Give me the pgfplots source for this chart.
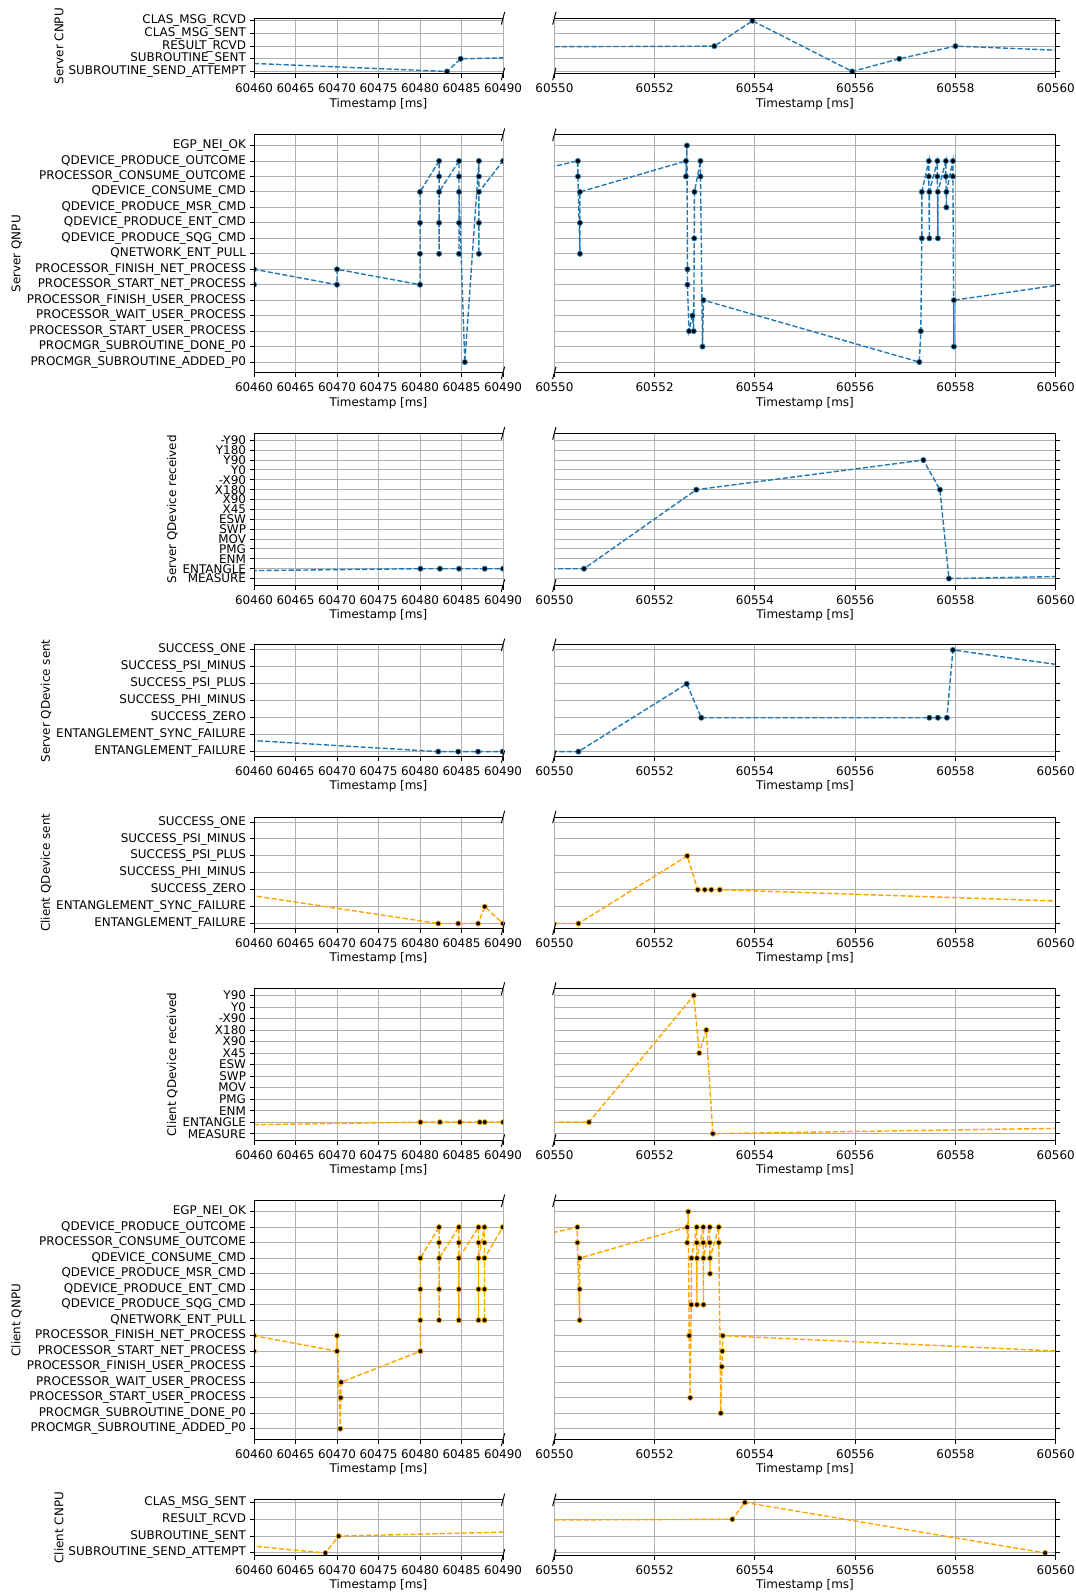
\documentclass[border=0pt]{standalone}
\usepackage{fontspec}
\setmainfont{DejaVu Sans}
\usepackage{pgfplots}
\usepackage{pgfplotstable}
\pgfplotsset{compat=1.18}
\definecolor{tabblue}{HTML}{1F77B4}
\definecolor{orng}{HTML}{FFA500}
\definecolor{gridc}{HTML}{B0B0B0}
\newcommand{\fs}{\fontsize{8.6pt}{10pt}\selectfont}
\pgfplotsset{
  base/.style={scale only axis, enlargelimits=false, axis line style={draw=none},
    tick align=outside, major tick length=3pt, tick style={black, line width=0.7pt},
    grid=major, major grid style={gridc, line width=0.7pt}, xtick pos=left,
    clip marker paths=true,
    tick label style={font=\fs}, label style={font=\fs},
    xticklabel style={inner sep=0pt, anchor=north, yshift=-3.9pt},
    yticklabel style={inner sep=0pt, anchor=east, xshift=-2.6pt},
    xlabel={Timestamp [ms]},
    xlabel style={at={(axis description cs:0.5,0)}, anchor=center, yshift=-21.6pt, inner sep=0pt}},
  leftp/.style={base, width=179.28pt, xmin=460, xmax=490, xtick={460,465,...,490},
    xticklabels={60460,60465,60470,60475,60480,60485,60490}, ytick pos=left},
  rightp/.style={base, width=360.94pt, xmin=550, xmax=560, xtick={550,552,...,560},
    xticklabels={60550,60552,60554,60556,60558,60560}, ytick pos=right, yticklabels={}},
  server/.style={color=tabblue, line width=1pt, dash pattern=on 3.7pt off 1.6pt,
    mark=*, mark size=1.85pt, mark options={solid, fill=black, draw=tabblue, line width=0.55pt}},
  client/.style={color=orng, line width=1pt, dash pattern=on 3.7pt off 1.6pt,
    mark=*, mark size=1.85pt, mark options={solid, fill=black, draw=orng, line width=0.55pt}},
}
\newcommand{\brk}[1]{\draw[line width=0.7pt, black] (#1) ++(-1.2pt,-4.5pt) -- ++(2.4pt,9pt);}
\newcommand{\spines}[2]{%
  \draw[line width=0.7pt, black] (#1.north east) -- (#1.north west) -- (#1.south west) -- (#1.south east);
  \draw[line width=0.7pt, black] (#2.north west) -- (#2.north east) -- (#2.south east) -- (#2.south west);
  \brk{#1.north east}\brk{#1.south east}\brk{#2.north west}\brk{#2.south west}}

\pgfplotstableread{
x y
409.5 2
483.25 0
484.9 1
553.19 2
553.95 4
555.94 0
556.88 1
558.0 2
570.5 0
}\tA
\pgfplotstableread{
x y
460 5
460 6
470 5
470 6
480 5
480 7
480 9
480 11
482.3 13
482.3 12
482.3 7
482.3 9
482.3 11
484.7 13
484.7 12
484.7 7
484.7 9
484.7 11
485.4 0
487.1 13
487.1 12
487.1 7
487.1 9
487.1 11
490.0 13
490.4 12
490.5 7
490.5 9
490.5 11
547.7 11
550.47 13
550.47 12
550.51 7
550.51 9
550.51 11
552.625 13
552.625 12
552.645 14
552.655 6
552.655 5
552.685 2
552.755 3
552.78 2
552.79 8
552.795 11
552.915 13
552.915 12
552.955 1
552.975 4
557.28 0
557.31 2
557.33 8
557.33 11
557.47 13
557.47 12
557.48 8
557.48 11
557.64 13
557.64 12
557.65 8
557.65 11
557.81 13
557.81 12
557.82 10
557.82 11
557.95 13
557.95 12
557.97 1
557.97 4
560.1 5
}\tB
\pgfplotstableread{
x y
374.6 0
480.05 1
482.4 1
484.7 1
487.8 1
490.0 1
550.59 1
552.83 9
557.36 12
557.69 9
557.87 0
568.5 1
}\tC
\pgfplotstableread{
x y
448.05 1
482.2 0
484.6 0
487.0 0
489.95 0
550.48 0
552.64 4
552.93 2
557.48 2
557.65 2
557.83 2
557.95 6
567.6 2
}\tD
\pgfplotstableread{
x y
455.1 2
482.2 0
484.6 0
487.0 0
487.8 1
490.0 0
550.48 0
552.65 4
552.86 2
553.0 2
553.13 2
553.30 2
563.3 1
}\tE
\pgfplotstableread{
x y
389 0
480.05 1
482.4 1
484.8 1
487.2 1
487.8 1
490.0 1
550.69 1
552.78 12
552.89 7
553.03 9
553.16 0
568.0 1
}\tF
\pgfplotstableread{
x y
460 5
460 6
470 5
470 6
470.4 0
470.45 2
470.5 3
480.04 5
480.04 7
480.04 9
480.04 11
482.3 13
482.3 12
482.3 7
482.3 9
482.3 11
484.68 13
484.68 12
484.68 7
484.68 9
484.68 11
487.05 13
487.05 12
487.05 7
487.05 9
487.05 11
487.77 13
487.77 12
487.77 7
487.77 9
487.77 11
489.97 13
490.4 12
490.5 7
490.5 9
490.5 11
547.7 11
550.46 13
550.46 12
550.505 7
550.505 9
550.505 11
552.65 13
552.65 12
552.67 14
552.69 6
552.71 2
552.73 8
552.735 11
552.84 13
552.84 12
552.845 8
552.845 11
552.97 13
552.97 12
552.975 8
552.975 11
553.10 13
553.10 12
553.105 10
553.105 11
553.28 13
553.28 12
553.32 1
553.34 4
553.35 5
553.36 6
560.1 5
}\tG
\pgfplotstableread{
x y
447.1 1
468.6 0
470.2 1
553.55 2
553.8 3
559.79 0
}\tH

\begin{document}
\begin{tikzpicture}
\path (0,0) rectangle (774pt,1146.24pt);
% Row 1
\begin{axis}[leftp, name=L1, at={(182.88pt,1092.96pt)}, anchor=south west, height=40.10pt,
  ymin=-0.2, ymax=4.2, ytick={0,...,4},
  yticklabels={SUBROUTINE\_SEND\_ATTEMPT,SUBROUTINE\_SENT,RESULT\_RCVD,CLAS\_MSG\_SENT,CLAS\_MSG\_RCVD},
  ylabel={Server CNPU}]
\addplot[server] table {\tA};
\end{axis}
\begin{axis}[rightp, name=R1, at={(399.1pt,1092.96pt)}, anchor=south west, height=40.10pt,
  ymin=-0.2, ymax=4.2, ytick={0,...,4}]
\addplot[server] table {\tA};
\end{axis}
\spines{L1}{R1}
% Row 2
\begin{axis}[leftp, name=L2, at={(182.88pt,877.75pt)}, anchor=south west, height=171.50pt,
  ymin=-0.7, ymax=14.7, ytick={0,...,14},
  yticklabels={PROCMGR\_SUBROUTINE\_ADDED\_P0,PROCMGR\_SUBROUTINE\_DONE\_P0,PROCESSOR\_START\_USER\_PROCESS,PROCESSOR\_WAIT\_USER\_PROCESS,PROCESSOR\_FINISH\_USER\_PROCESS,PROCESSOR\_START\_NET\_PROCESS,PROCESSOR\_FINISH\_NET\_PROCESS,QNETWORK\_ENT\_PULL,QDEVICE\_PRODUCE\_SQG\_CMD,QDEVICE\_PRODUCE\_ENT\_CMD,QDEVICE\_PRODUCE\_MSR\_CMD,QDEVICE\_CONSUME\_CMD,PROCESSOR\_CONSUME\_OUTCOME,QDEVICE\_PRODUCE\_OUTCOME,EGP\_NEI\_OK},
  ylabel={Server QNPU}]
\addplot[server] table {\tB};
\end{axis}
\begin{axis}[rightp, name=R2, at={(399.1pt,877.75pt)}, anchor=south west, height=171.50pt,
  ymin=-0.7, ymax=14.7, ytick={0,...,14}]
\addplot[server] table {\tB};
\end{axis}
\spines{L2}{R2}
% Row 3
\begin{axis}[leftp, name=L3, at={(182.88pt,724.68pt)}, anchor=south west, height=109.51pt,
  ymin=-0.7, ymax=14.7, ytick={0,...,14},
  yticklabels={MEASURE,ENTANGLE,ENM,PMG,MOV,SWP,ESW,X45,X90,X180,-X90,Y0,Y90,Y180,-Y90},
  ylabel={Server QDevice received}]
\addplot[server] table {\tC};
\end{axis}
\begin{axis}[rightp, name=R3, at={(399.1pt,724.68pt)}, anchor=south west, height=109.51pt,
  ymin=-0.7, ymax=14.7, ytick={0,...,14}]
\addplot[server] table {\tC};
\end{axis}
\spines{L3}{R3}
% Row 4
\begin{axis}[leftp, name=L4, at={(182.88pt,601.42pt)}, anchor=south west, height=80.50pt,
  ymin=-0.3, ymax=6.3, ytick={0,...,6},
  yticklabels={ENTANGLEMENT\_FAILURE,ENTANGLEMENT\_SYNC\_FAILURE,SUCCESS\_ZERO,SUCCESS\_PHI\_MINUS,SUCCESS\_PSI\_PLUS,SUCCESS\_PSI\_MINUS,SUCCESS\_ONE},
  ylabel={Server QDevice sent}]
\addplot[server] table {\tD};
\end{axis}
\begin{axis}[rightp, name=R4, at={(399.1pt,601.42pt)}, anchor=south west, height=80.50pt,
  ymin=-0.3, ymax=6.3, ytick={0,...,6}]
\addplot[server] table {\tD};
\end{axis}
\spines{L4}{R4}
% Row 5
\begin{axis}[leftp, name=L5, at={(182.88pt,477.65pt)}, anchor=south west, height=80.35pt,
  ymin=-0.3, ymax=6.3, ytick={0,...,6},
  yticklabels={ENTANGLEMENT\_FAILURE,ENTANGLEMENT\_SYNC\_FAILURE,SUCCESS\_ZERO,SUCCESS\_PHI\_MINUS,SUCCESS\_PSI\_PLUS,SUCCESS\_PSI\_MINUS,SUCCESS\_ONE},
  ylabel={Client QDevice sent}]
\addplot[client] table {\tE};
\end{axis}
\begin{axis}[rightp, name=R5, at={(399.1pt,477.65pt)}, anchor=south west, height=80.35pt,
  ymin=-0.3, ymax=6.3, ytick={0,...,6}]
\addplot[client] table {\tE};
\end{axis}
\spines{L5}{R5}
% Row 6
\begin{axis}[leftp, name=L6, at={(182.88pt,325.01pt)}, anchor=south west, height=109.44pt,
  ymin=-0.6, ymax=12.6, ytick={0,...,12},
  yticklabels={MEASURE,ENTANGLE,ENM,PMG,MOV,SWP,ESW,X45,X90,X180,-X90,Y0,Y90},
  ylabel={Client QDevice received}]
\addplot[client] table {\tF};
\end{axis}
\begin{axis}[rightp, name=R6, at={(399.1pt,325.01pt)}, anchor=south west, height=109.44pt,
  ymin=-0.6, ymax=12.6, ytick={0,...,12}]
\addplot[client] table {\tF};
\end{axis}
\spines{L6}{R6}
% Row 7
\begin{axis}[leftp, name=L7, at={(182.88pt,109.73pt)}, anchor=south west, height=171.94pt,
  ymin=-0.7, ymax=14.7, ytick={0,...,14},
  yticklabels={PROCMGR\_SUBROUTINE\_ADDED\_P0,PROCMGR\_SUBROUTINE\_DONE\_P0,PROCESSOR\_START\_USER\_PROCESS,PROCESSOR\_WAIT\_USER\_PROCESS,PROCESSOR\_FINISH\_USER\_PROCESS,PROCESSOR\_START\_NET\_PROCESS,PROCESSOR\_FINISH\_NET\_PROCESS,QNETWORK\_ENT\_PULL,QDEVICE\_PRODUCE\_SQG\_CMD,QDEVICE\_PRODUCE\_ENT\_CMD,QDEVICE\_PRODUCE\_MSR\_CMD,QDEVICE\_CONSUME\_CMD,PROCESSOR\_CONSUME\_OUTCOME,QDEVICE\_PRODUCE\_OUTCOME,EGP\_NEI\_OK},
  ylabel={Client QNPU}]
\addplot[client] table {\tG};
\end{axis}
\begin{axis}[rightp, name=R7, at={(399.1pt,109.73pt)}, anchor=south west, height=171.94pt,
  ymin=-0.7, ymax=14.7, ytick={0,...,14}]
\addplot[client] table {\tG};
\end{axis}
\spines{L7}{R7}
% Row 8
\begin{axis}[leftp, name=L8, at={(182.88pt,26.28pt)}, anchor=south west, height=40.03pt,
  ymin=-0.15, ymax=3.15, ytick={0,...,3},
  yticklabels={SUBROUTINE\_SEND\_ATTEMPT,SUBROUTINE\_SENT,RESULT\_RCVD,CLAS\_MSG\_SENT},
  ylabel={Client CNPU}]
\addplot[client] table {\tH};
\end{axis}
\begin{axis}[rightp, name=R8, at={(399.1pt,26.28pt)}, anchor=south west, height=40.03pt,
  ymin=-0.15, ymax=3.15, ytick={0,...,3}]
\addplot[client] table {\tH};
\end{axis}
\spines{L8}{R8}
\end{tikzpicture}
\end{document}
